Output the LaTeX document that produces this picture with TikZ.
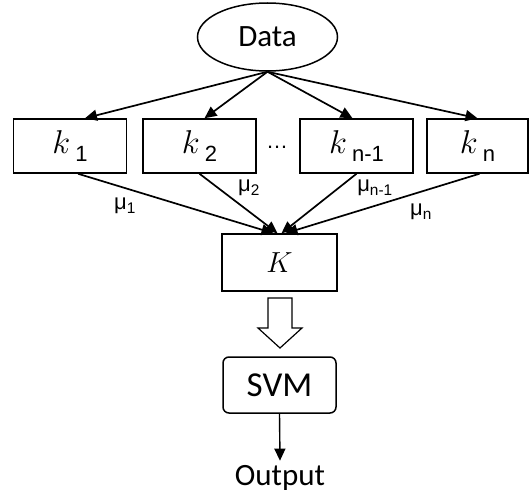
\RequirePackage{fix-cm}
\documentclass[tikz,border=0pt]{standalone}
\usepackage{fontspec}
\setmainfont{Carlito}
\newfontfamily\arialfont{Liberation Sans}
\usetikzlibrary{arrows.meta, shapes.geometric, calc}

\newcommand{\ksub}[1]{$k$\hspace{5pt}\raisebox{-8pt}{\arialfont\fontsize{22}{24}\selectfont #1}}

\begin{document}
\begin{tikzpicture}[
    x=1pt, y=-1pt,
    every node/.style={font=\fontsize{31}{36}\selectfont},
    data/.style={ellipse, draw, line width=1.5pt, minimum width=140pt, minimum height=68pt},
    kbox/.style={rectangle, draw, line width=1.5pt, minimum width=113pt, minimum height=54pt, font=\fontsize{33}{36}\selectfont},
    sumbox/.style={rectangle, draw, line width=1.5pt, minimum width=115pt, minimum height=57pt, font=\fontsize{29}{32}\selectfont},
    svmbox/.style={rectangle, rounded corners=6pt, draw, line width=1.5pt, minimum width=113pt, minimum height=56pt, font=\fontsize{35}{40}\selectfont},
    weight/.style={font=\arialfont\fontsize{22}{24}\selectfont, inner sep=0pt},
    edge/.style={draw, line width=1.7pt, -{Triangle[length=12pt, width=11pt]}}
]
\useasboundingbox (0,0) rectangle (530,492);

% input and kernels
\node[data] (data) at (267.5,37) {Data};
\node[kbox] (k1) at (70,146) {\ksub{1}};
\node[kbox] (k2) at (199.5,146) {\ksub{2}};
\node[kbox] (kn1) at (356.5,146) {\ksub{n-1}};
\node[kbox, minimum width=101pt] (kn) at (477.5,146) {\ksub{n}};
\node[font=\arialfont\fontsize{22}{24}\selectfont, inner sep=0pt] (dots) at (277,147) {…};

% combined kernel and classifier
\node[sumbox] (K) at (279.5,262.5) {$K$};
\node[svmbox] (svm) at (279.5,385) {SVM};
\node[anchor=base, inner sep=4pt] (out) at (280,485) {Output};

\foreach \k/\dx in {k1/15, k2/5, kn1/-4, kn/0}
    \draw[edge] (data.south) -- ($(\k.north)+(\dx,0)$);

\draw[edge] ($(k1.south)+(8,0)$) -- ($(K.north)+(-6,0)$);
\draw[edge] (k2.south) -- ($(K.north)+(-2,0)$);
\draw[edge] (kn1.south) -- ($(K.north)+(2,0)$);
\draw[edge] ($(kn.south)+(2,0)$) -- ($(K.north)+(6,0)$);

\node[weight] (w1) at (125,206) {μ\textsubscript{1}};
\node[weight] (w2) at (249,188) {μ\textsubscript{2}};
\node[weight] (wn1) at (375,188) {μ\textsubscript{n-1}};
\node[weight] (wn) at (421,212) {μ\textsubscript{n}};

% hollow arrow
\draw[line width=1.2pt] (268,298) -- (292,298) -- (292,328) -- (302,328) -- (280,348)
    -- (258,328) -- (268,328) -- cycle;

\draw[edge, line width=1.4pt] (svm.south) -- (out.north);
\end{tikzpicture}
\end{document}
